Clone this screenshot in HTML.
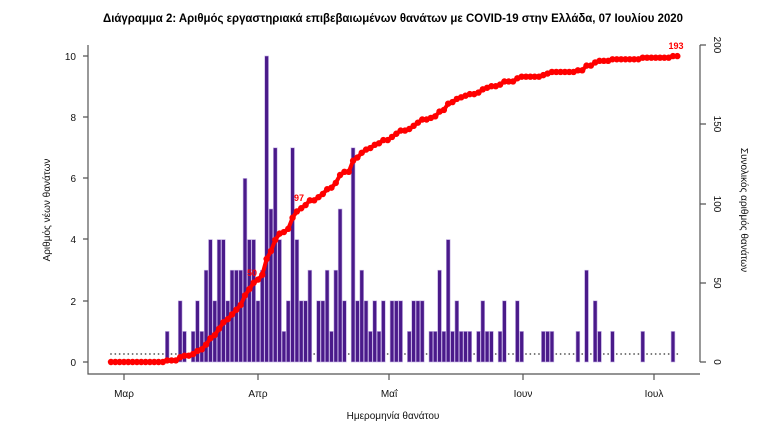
<!DOCTYPE html>
<html><head><meta charset="utf-8"><style>
html,body{margin:0;padding:0;background:#fff;width:770px;height:433px;overflow:hidden}
svg{display:block;font-family:"Liberation Sans","DejaVu Sans",sans-serif}
</style></head><body>
<svg id="c" width="770" height="433" viewBox="0 0 770 433">
<text x="393" y="22" text-anchor="middle" font-size="12" font-weight="bold" textLength="580" lengthAdjust="spacingAndGlyphs">Διάγραμμα 2: Αριθμός εργαστηριακά επιβεβαιωμένων θανάτων με COVID-19 στην Ελλάδα, 07 Ιουλίου 2020</text>
<g stroke="#555" stroke-width="1.2" fill="none">
<path d="M88 45V374H700"/>
<path d="M700 45V362"/>
<path d="M83 362H88M83 301H88M83 239H88M83 178H88M83 117H88M83 56H88"/>
<path d="M700 362H706M700 283H706M700 204H706M700 124H706M700 45H706"/>
<path d="M124 374V380M258 374V380M389 374V380M523 374V380M654 374V380"/>
</g>
<g font-size="10" text-anchor="end" fill="#111">
<text x="76" y="366">0</text><text x="76" y="305">2</text><text x="76" y="243">4</text><text x="76" y="182">6</text><text x="76" y="121">8</text><text x="76" y="60">10</text>
</g>
<g font-size="10" text-anchor="middle" fill="#111">
<text transform="translate(714 362) rotate(90)">0</text>
<text transform="translate(714 283) rotate(90)">50</text>
<text transform="translate(714 204) rotate(90)">100</text>
<text transform="translate(714 124) rotate(90)">150</text>
<text transform="translate(714 45) rotate(90)">200</text>
<text x="124" y="397">Μαρ</text><text x="258" y="397">Απρ</text><text x="389" y="397">Μαΐ</text><text x="523" y="397">Ιουν</text><text x="654" y="397">Ιουλ</text>
<text x="393" y="419">Ημερομηνία θανάτου</text>
<text transform="translate(50 210) rotate(-90)">Αριθμός νέων θανάτων</text>
<text transform="translate(741 210) rotate(90)">Συνολικός αριθμός θανάτων</text>
</g>
<g id="bars"></g>
<g id="cum"></g>
<g font-size="9" font-weight="bold" fill="#f00" text-anchor="middle">
<text x="252" y="276">50</text>
<text x="299" y="201">97</text>
<text x="676" y="49">193</text>
</g>
</svg>
<script>
var v=[0,0,0,0,0,0,0,0,0,0,0,0,0,1,0,0,2,1,0,1,2,1,3,4,2,4,4,2,3,3,3,6,4,4,2,3,10,5,7,4,1,2,7,4,2,2,3,0,2,2,3,1,3,5,2,0,7,2,3,2,1,2,1,2,0,2,2,2,0,1,2,2,2,0,1,1,3,1,4,1,2,1,1,1,0,1,2,1,1,0,1,2,0,0,2,1,0,0,0,0,1,1,1,0,0,0,0,0,1,0,3,0,2,1,0,0,1,0,0,0,0,0,0,1,0,0,0,0,0,0,1,0];
var NS="http://www.w3.org/2000/svg",b=document.getElementById("bars"),cg=document.getElementById("cum");
function X(d){return 111+4.323*d}
var c=0,pts=[];
for(var d=0;d<v.length;d++){
 var x=X(d);
 if(v[d]>0){var r=document.createElementNS(NS,"rect");var h=v[d]*30.6;
 r.setAttribute("x",x-1.9);r.setAttribute("y",362-h);r.setAttribute("width",3.8);r.setAttribute("height",h);
 r.setAttribute("fill","#4a1a8a");r.setAttribute("stroke","#c4b0e4");r.setAttribute("stroke-width","0.6");b.appendChild(r);}
 else{var z=document.createElementNS(NS,"circle");z.setAttribute("cx",x);z.setAttribute("cy",354);z.setAttribute("r",0.9);z.setAttribute("fill","#555");b.appendChild(z);}
 c+=v[d];pts.push([x,362-c*1.585]);
}
var p=document.createElementNS(NS,"polyline");
p.setAttribute("points",pts.map(function(q){return q.join(",")}).join(" "));
p.setAttribute("fill","none");p.setAttribute("stroke","#f00");p.setAttribute("stroke-width","4");cg.appendChild(p);
pts.forEach(function(q){var e=document.createElementNS(NS,"circle");e.setAttribute("cx",q[0]);e.setAttribute("cy",q[1]);e.setAttribute("r",3.2);e.setAttribute("fill","#f00");cg.appendChild(e);});
</script>
</body></html>
